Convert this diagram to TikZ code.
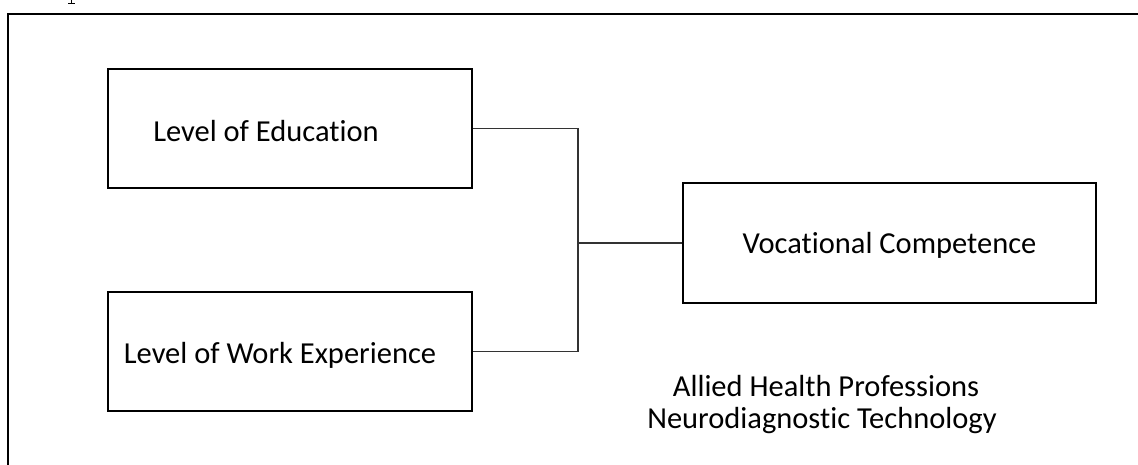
\documentclass[tikz,border=0pt]{standalone}
\usepackage{fontspec}
\setmainfont{Carlito}[Ligatures=NoCommon]
\begin{document}
\begin{tikzpicture}[x=1pt,y=-1pt,
  box/.style={draw=black, line width=2pt, minimum width=364pt, minimum height=119pt, inner sep=0pt},
  link/.style={draw=black!80, line width=1.1pt},
  lbl/.style={font=\fontsize{30.5}{32}\selectfont, align=center, inner sep=0pt}]
\useasboundingbox (0,0) rectangle (1138,464);
% descender of a caption glyph cut off at the top edge
\fill (70.6,-2) rectangle (72.4,4);
\fill (67.8,3.2) rectangle (75.2,4.4);
% outer frame
\draw[line width=2pt] (8,480) -- (8,14) -- (1150,14);
\node[box] (edu) at (290,128.5) {};
\node[box] (work) at (290,351.5) {};
\node[box, minimum width=413pt, minimum height=120pt] (voc) at (889.5,243) {};
\node[lbl, anchor=base] (edut) at (266,141) {Level of Education};
\node[lbl, anchor=base] (workt) at (280,363) {Level of Work Experience};
\node[lbl, anchor=base] (voct) at (889.5,253) {Vocational Competence};
\coordinate (j) at (578,243);
\draw[link] (edu.east) -| (j);
\draw[link] (work.east) -| (j);
\draw[link] (j) -- (voc.west);
\node[lbl, anchor=base] (ahp) at (826,396) {Allied Health Professions};
\node[lbl, anchor=base] (ndt) at (822,428) {Neurodiagnostic Technology};
\end{tikzpicture}
\end{document}
